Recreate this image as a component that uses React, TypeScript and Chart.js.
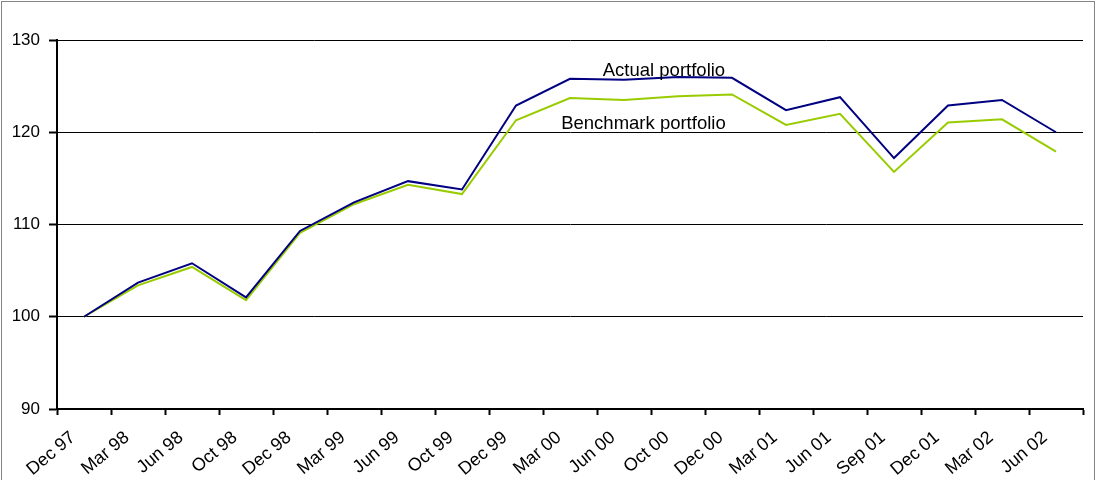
import React, { useEffect, useRef } from "react";
import { Chart, registerables } from "chart.js";

Chart.register(...registerables);

// Quarter-end labels along the horizontal axis
const categories = [
  "Dec 97", "Mar 98", "Jun 98", "Oct 98", "Dec 98", "Mar 99", "Jun 99", "Oct 99",
  "Dec 99", "Mar 00", "Jun 00", "Oct 00", "Dec 00", "Mar 01", "Jun 01", "Sep 01",
  "Dec 01", "Mar 02", "Jun 02",
];

// Indexed portfolio values (Dec 97 = 100)
const actualPortfolio = [
  100, 103.7, 105.8, 102.1, 109.3, 112.4, 114.7, 113.8, 122.9, 125.8,
  125.7, 126.0, 125.9, 122.4, 123.8, 117.2, 122.9, 123.5, 120.0,
];
const benchmarkPortfolio = [
  100, 103.4, 105.4, 101.8, 109.1, 112.2, 114.3, 113.3, 121.3, 123.7,
  123.5, 123.9, 124.1, 120.8, 122.0, 115.7, 121.05, 121.4, 117.9,
];

// Value axis range
const yMin = 90;
const yMax = 130;
const yStep = 10;

// In-chart series captions: [text, category position, value at baseline]
const captions: [string, number, number][] = [
  ["Actual portfolio", 10.74, 126.1],
  ["Benchmark portfolio", 10.36, 120.3],
];

const FONT = "'Liberation Sans', Arial, sans-serif";

const captionPlugin = {
  id: "seriesCaptions",
  afterDatasetsDraw(chart: any) {
    const { ctx, scales } = chart;
    ctx.save();
    ctx.font = `18.5px ${FONT}`;
    ctx.fillStyle = "#000";
    ctx.textAlign = "center";
    ctx.textBaseline = "alphabetic";
    for (const [text, xv, yv] of captions) {
      ctx.fillText(text, scales.x.getPixelForValue(xv), scales.y.getPixelForValue(yv));
    }
    ctx.restore();
  },
};

export default function App() {
  const canvasRef = useRef<HTMLCanvasElement | null>(null);

  useEffect(() => {
    const canvas = canvasRef.current;
    if (!canvas) return;
    const chart = new Chart(canvas, {
      type: "line",
      data: {
        labels: categories,
        datasets: [
          {
            label: "Actual portfolio",
            data: actualPortfolio,
            borderColor: "#000080",
            borderWidth: 2,
            pointRadius: 0,
            tension: 0,
            fill: false,
          },
          {
            label: "Benchmark portfolio",
            data: benchmarkPortfolio,
            borderColor: "#99CC00",
            borderWidth: 2,
            pointRadius: 0,
            tension: 0,
            fill: false,
          },
        ],
      },
      options: {
        responsive: false,
        animation: false,
        devicePixelRatio: 1,
        layout: { padding: { left: 0, top: 40, right: 13, bottom: 0 } },
        plugins: {
          legend: { display: false },
          tooltip: { enabled: false },
          title: { display: false },
        },
        scales: {
          x: {
            type: "category",
            offset: true,
            grid: {
              offset: true,
              drawOnChartArea: false,
              drawTicks: true,
              tickLength: 6,
              tickColor: "#000",
              tickWidth: 2,
            },
            border: { display: true, color: "#000", width: 2 },
            ticks: {
              autoSkip: false,
              minRotation: 40,
              maxRotation: 40,
              padding: 12,
              labelOffset: -11,
              color: "#000",
              font: { family: FONT, size: 18 },
            },
            afterFit(scale: any) {
              scale.height = 71;
            },
          },
          y: {
            min: yMin,
            max: yMax,
            grid: {
              color: "#000",
              lineWidth: 1,
              drawTicks: true,
              tickLength: 8,
              tickColor: "#000",
              tickWidth: 2,
            },
            border: { display: true, color: "#000", width: 2 },
            ticks: {
              stepSize: yStep,
              padding: 9,
              color: "#000",
              font: { family: FONT, size: 17 },
            },
            afterFit(scale: any) {
              scale.width = 57;
            },
          },
        },
      },
      plugins: [captionPlugin],
    });
    return () => chart.destroy();
  }, []);

  return (
    <div
      style={{
        position: "absolute",
        left: 0,
        top: 0,
        width: 1096,
        height: 480,
        overflow: "hidden",
        background: "#fff",
      }}
    >
      <canvas
        ref={canvasRef}
        width={1096}
        height={480}
        style={{ position: "absolute", left: 0, top: 0, width: 1096, height: 480 }}
      />
      <div
        style={{
          position: "absolute",
          left: 1,
          top: 1,
          width: 1094,
          height: 500,
          boxSizing: "border-box",
          border: "1px solid #858585",
          pointerEvents: "none",
        }}
      />
    </div>
  );
}
